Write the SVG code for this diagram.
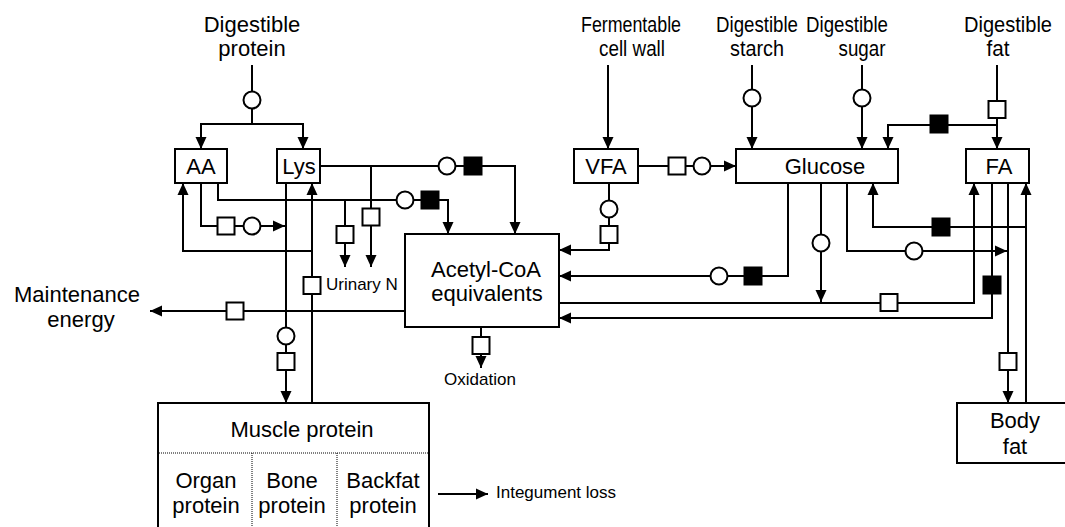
<svg xmlns="http://www.w3.org/2000/svg" width="1065" height="527" viewBox="0 0 1065 527">
<defs>
<marker id="ah" markerUnits="userSpaceOnUse" markerWidth="13" markerHeight="12" refX="12" refY="6" orient="auto">
<path d="M0,0.5 L12,6 L0,11.5 z" fill="#000"/>
</marker>
<style>
.ln{fill:none;stroke:#000;stroke-width:2}
.ar{marker-end:url(#ah)}
.box{fill:#fff;stroke:#000;stroke-width:2}
.oc{fill:#fff;stroke:#000;stroke-width:2}
.os{fill:#fff;stroke:#000;stroke-width:2}
.fs{fill:#000;stroke:#000;stroke-width:1}
.dot{fill:none;stroke:#000;stroke-width:1;stroke-dasharray:1 1}
text{font-family:"Liberation Sans",Arial,Helvetica,sans-serif;fill:#000}
.t{font-size:22px;text-anchor:middle}
.s{font-size:17px}
</style>
</defs>
<rect width="1065" height="527" fill="#fff"/>

<g id="connectors">
<path class="ln" d="M252,65 V124"/>
<path class="ln ar" d="M252,124 H201 V149"/>
<path class="ln ar" d="M252,124 H303 V149"/>
<path class="ln ar" d="M320,166 H515 V234"/>
<path class="ln ar" d="M371,166 V267"/>
<path class="ln ar" d="M218,183 V200 H448 V234"/>
<path class="ln ar" d="M345,200 V267"/>
<path class="ln ar" d="M201,183 V226 H285"/>
<path class="ln ar" d="M312,251 H183 V183"/>
<path class="ln ar" d="M312,403 V183"/>
<path class="ln ar" d="M286,183 V403"/>
<path class="ln ar" d="M405,311 H150"/>
<path class="ln ar" d="M608,65 V149"/>
<path class="ln ar" d="M638,166 H736"/>
<path class="ln ar" d="M609,183 V250 H559"/>
<path class="ln ar" d="M752,65 V149"/>
<path class="ln ar" d="M862,65 V149"/>
<path class="ln ar" d="M997,65 V149"/>
<path class="ln ar" d="M997,125 H888 V149"/>
<path class="ln ar" d="M788,183 V276 H559"/>
<path class="ln ar" d="M821,183 V302"/>
<path class="ln ar" d="M847,183 V251 H1007"/>
<path class="ln ar" d="M1026,227 H873 V183"/>
<path class="ln ar" d="M559,303 H974 V183"/>
<path class="ln ar" d="M992,183 V318 H559"/>
<path class="ln ar" d="M1008,183 V403"/>
<path class="ln ar" d="M1026,403 V183"/>
<path class="ln ar" d="M481,327 V368"/>
<path class="ln ar" d="M438,494 H488"/>

<circle class="oc" cx="252" cy="100" r="8.5"/>
<circle class="oc" cx="447" cy="166" r="8.5"/>
<rect class="fs" x="464" y="157" width="18" height="18"/>
<rect class="os" x="362.5" y="208.5" width="17" height="17"/>
<circle class="oc" cx="405" cy="200" r="8.5"/>
<rect class="fs" x="421" y="191" width="18" height="18"/>
<rect class="os" x="336.5" y="226" width="17" height="17"/>
<rect class="os" x="217.5" y="217.5" width="17" height="17"/>
<circle class="oc" cx="252" cy="226" r="8.5"/>
<rect class="os" x="303.5" y="277" width="17" height="17"/>
<circle class="oc" cx="286" cy="336" r="8.5"/>
<rect class="os" x="277.5" y="353" width="17" height="17"/>
<rect class="os" x="226.5" y="302.5" width="17" height="17"/>
<rect class="os" x="668.5" y="157.5" width="17" height="17"/>
<circle class="oc" cx="702" cy="166" r="8.5"/>
<circle class="oc" cx="609" cy="209" r="8.5"/>
<rect class="os" x="600.5" y="226" width="17" height="17"/>
<circle class="oc" cx="752" cy="98" r="8.5"/>
<circle class="oc" cx="862" cy="98" r="8.5"/>
<rect class="os" x="988.5" y="101" width="17" height="17"/>
<rect class="fs" x="930" y="115" width="18" height="18"/>
<rect class="fs" x="744" y="267" width="18" height="18"/>
<circle class="oc" cx="719" cy="276" r="8.5"/>
<circle class="oc" cx="821" cy="243" r="8.5"/>
<circle class="oc" cx="914" cy="251" r="8.5"/>
<rect class="fs" x="932" y="218" width="18" height="18"/>
<rect class="os" x="880.5" y="294" width="17" height="17"/>
<rect class="fs" x="983" y="276" width="18" height="18"/>
<rect class="os" x="999.5" y="353" width="17" height="17"/>
<rect class="os" x="472.5" y="337" width="17" height="17"/>
</g>

<g id="label-digestible-protein">
<text class="t" x="252" y="32">Digestible</text>
<text class="t" x="252" y="56">protein</text>
</g>
<g id="label-fermentable">
<text class="t" x="631" y="32" textLength="100" lengthAdjust="spacingAndGlyphs">Fermentable</text>
<text class="t" x="632" y="56" textLength="66" lengthAdjust="spacingAndGlyphs">cell wall</text>
</g>
<g id="label-starch">
<text class="t" x="757" y="32" textLength="82" lengthAdjust="spacingAndGlyphs">Digestible</text>
<text class="t" x="757" y="56" textLength="54" lengthAdjust="spacingAndGlyphs">starch</text>
</g>
<g id="label-sugar">
<text class="t" x="847" y="32" textLength="82" lengthAdjust="spacingAndGlyphs">Digestible</text>
<text class="t" x="862" y="56" textLength="47" lengthAdjust="spacingAndGlyphs">sugar</text>
</g>
<g id="label-fat">
<text class="t" x="1008" y="32" textLength="88" lengthAdjust="spacingAndGlyphs">Digestible</text>
<text class="t" x="998" y="56" textLength="23" lengthAdjust="spacingAndGlyphs">fat</text>
</g>

<g id="node-aa">
<rect class="box" x="175" y="149" width="52" height="34"/>
<text class="t" x="201" y="174">AA</text>
</g>
<g id="node-lys">
<rect class="box" x="277" y="149" width="43" height="34"/>
<text class="t" x="299" y="174">Lys</text>
</g>
<g id="node-vfa">
<rect class="box" x="574" y="149" width="64" height="34"/>
<text class="t" x="606" y="174">VFA</text>
</g>
<g id="node-glucose">
<rect class="box" x="736" y="149" width="162" height="34"/>
<text class="t" x="825" y="174">Glucose</text>
</g>
<g id="node-fa">
<rect class="box" x="966" y="149" width="63" height="34"/>
<text class="t" x="999" y="174">FA</text>
</g>
<g id="node-acetyl">
<rect class="box" x="405" y="234" width="154" height="93"/>
<text class="t" x="486" y="277">Acetyl-CoA</text>
<text class="t" x="487" y="301">equivalents</text>
</g>
<g id="node-muscle">
<rect class="box" x="158" y="403" width="271" height="130"/>
<text class="t" x="302" y="437">Muscle protein</text>
<line class="dot" x1="159" y1="453" x2="428" y2="453"/>
<line class="dot" x1="252" y1="453" x2="252" y2="527"/>
<line class="dot" x1="337" y1="453" x2="337" y2="527"/>
<text class="t" x="206" y="488">Organ</text>
<text class="t" x="206" y="513">protein</text>
<text class="t" x="292" y="488">Bone</text>
<text class="t" x="292" y="513">protein</text>
<text class="t" x="383" y="488">Backfat</text>
<text class="t" x="383" y="513">protein</text>
</g>
<g id="node-bodyfat">
<rect class="box" x="957" y="403" width="112" height="60"/>
<text class="t" x="1015" y="428">Body</text>
<text class="t" x="1015" y="454">fat</text>
</g>
<g id="label-maintenance">
<text class="t" x="77" y="302">Maintenance</text>
<text class="t" x="81" y="327">energy</text>
</g>
<g id="label-urinary">
<text class="s" x="326" y="290">Urinary N</text>
</g>
<g id="label-oxidation">
<text class="s" x="480" y="385" text-anchor="middle">Oxidation</text>
</g>
<g id="label-integument">
<text class="s" x="496" y="498">Integument loss</text>
</g>
</svg>
